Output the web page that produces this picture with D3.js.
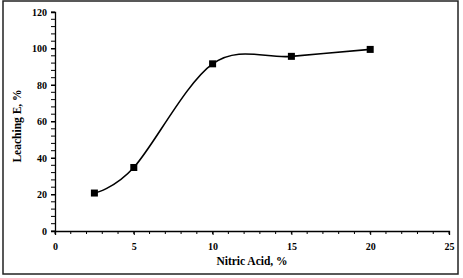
<!DOCTYPE html>
<html>
<head>
<meta charset="utf-8">
<script src="https://cdn.jsdelivr.net/npm/d3@7"></script>
<style>
  body { margin: 0; background: #fff; }
  text { font-family: "Liberation Serif", "Times New Roman", serif; font-weight: bold; fill: #000; }
</style>
</head>
<body>
<div id="chart"></div>
<script>
var width = 463, height = 278;

// data
var acid = [2.5, 5, 10, 15, 20];
var leaching = [20.8, 34.8, 91.6, 95.7, 99.5];
var xTicks = [0, 5, 10, 15, 20, 25];
var yTicks = [0, 20, 40, 60, 80, 100, 120];

var svg = d3.select('#chart').append('svg')
  .attr('width', width).attr('height', height);

// outer frame
svg.append('rect')
  .attr('x', 3).attr('y', 1)
  .attr('width', 455).attr('height', 273)
  .attr('fill', 'none').attr('stroke', '#222').attr('stroke-width', 1.5);

var x = d3.scaleLinear().domain([0, 25]).range([55, 449]);
var y = d3.scaleLinear().domain([0, 120]).range([231, 12]);

// minor ticks
svg.append('g').selectAll('line')
  .data(d3.range(0, 25.01, 1))
  .enter().append('line')
  .attr('x1', function(d) { return x(d); }).attr('x2', function(d) { return x(d); })
  .attr('y1', 231).attr('y2', 234)
  .attr('stroke', '#000').attr('stroke-width', 1);

svg.append('g').selectAll('line')
  .data(d3.range(0, 120.01, 4))
  .enter().append('line')
  .attr('y1', function(d) { return y(d); }).attr('y2', function(d) { return y(d); })
  .attr('x1', 51).attr('x2', 55)
  .attr('stroke', '#000').attr('stroke-width', 1);

// axes
var xAxis = svg.append('g')
  .attr('transform', 'translate(0,231)')
  .call(d3.axisBottom(x).tickValues(xTicks).tickSize(4).tickPadding(8));
var yAxis = svg.append('g')
  .attr('transform', 'translate(55,0)')
  .call(d3.axisLeft(y).tickValues(yTicks).tickSize(4).tickPadding(4));

[xAxis, yAxis].forEach(function(a) {
  a.select('.domain').attr('stroke', '#000').attr('stroke-width', 1.3);
  a.selectAll('.tick line').attr('stroke', '#000');
  a.selectAll('text')
    .style('font-family', '"Liberation Serif", serif')
    .style('font-weight', 'bold')
    .style('font-size', '10px')
    .attr('fill', '#000');
});

// axis titles
svg.append('text')
  .attr('x', 252).attr('y', 265)
  .attr('text-anchor', 'middle')
  .style('font-size', '11.5px')
  .text('Nitric Acid, %');

svg.append('text')
  .attr('transform', 'translate(21,126) rotate(-90)')
  .attr('text-anchor', 'middle')
  .style('font-size', '11.5px')
  .text('Leaching E, %');

// smoothed line
var pts = acid.map(function(d, i) { return [d, leaching[i]]; });
var line = d3.line()
  .x(function(d) { return x(d[0]); })
  .y(function(d) { return y(d[1]); })
  .curve(d3.curveCardinal.tension(0));

svg.append('path')
  .datum(pts)
  .attr('d', line)
  .attr('fill', 'none')
  .attr('stroke', '#000')
  .attr('stroke-width', 1.6);

// markers
var m = 7;
svg.append('g').selectAll('rect')
  .data(pts)
  .enter().append('rect')
  .attr('x', function(d) { return x(d[0]) - m / 2; })
  .attr('y', function(d) { return y(d[1]) - m / 2; })
  .attr('width', m).attr('height', m)
  .attr('fill', '#000');
</script>
</body>
</html>
